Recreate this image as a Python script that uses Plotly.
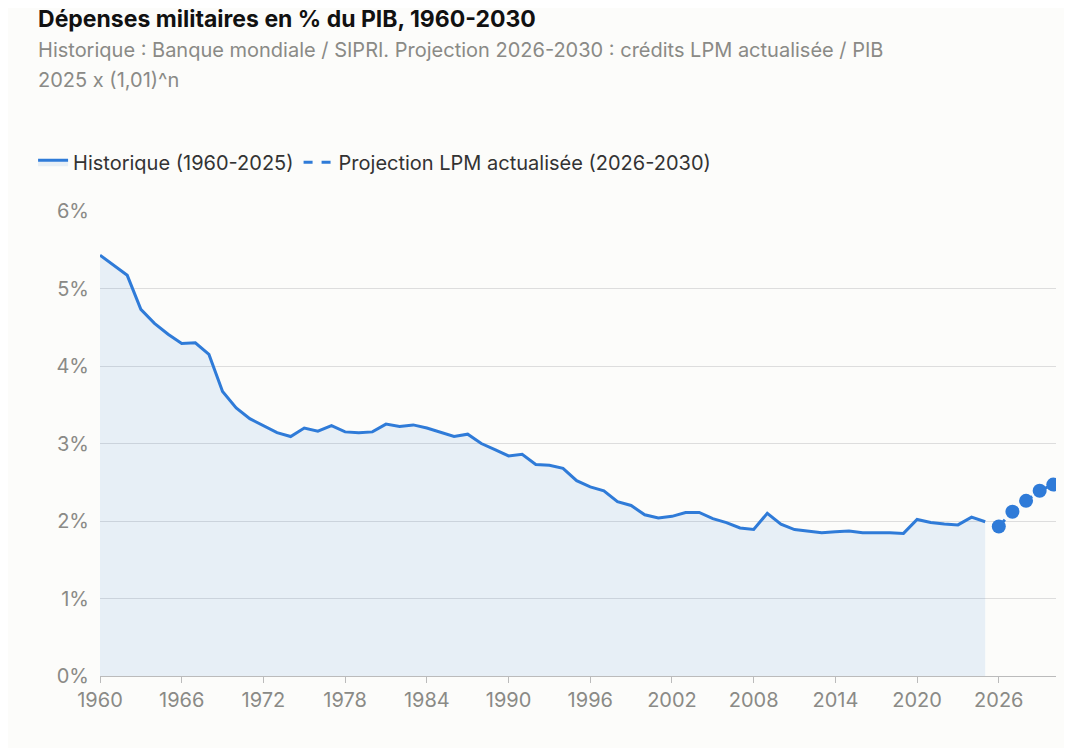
import plotly.graph_objects as go

# Historical data (1960-2025), % of GDP
histYears = list(range(1960, 2026))
histValues = [
    5.43, 5.30, 5.17, 4.73, 4.55, 4.41, 4.29, 4.30, 4.15, 3.67,
    3.46, 3.32, 3.23, 3.14, 3.09, 3.20, 3.16, 3.23, 3.15, 3.14,
    3.15, 3.25, 3.22, 3.24, 3.20, 3.15, 3.09, 3.12, 3.00, 2.92,
    2.84, 2.86, 2.73, 2.72, 2.68, 2.52, 2.44, 2.39, 2.25, 2.20,
    2.08, 2.04, 2.06, 2.11, 2.11, 2.03, 1.98, 1.91, 1.89, 2.10,
    1.96, 1.89, 1.87, 1.85, 1.86, 1.87, 1.85, 1.85, 1.85, 1.84,
    2.02, 1.98, 1.96, 1.95, 2.05, 1.99,
]

# Projection (2026-2030)
projYears = [2026, 2027, 2028, 2029, 2030]
projValues = [1.93, 2.12, 2.26, 2.39, 2.47]

xTicks = list(range(1960, 2027, 6))
yTicks = [0, 1, 2, 3, 4, 5, 6]

blue = "#2f7bd8"
grey = "#8a8a86"
font = "Inter"

fig = go.Figure()
fig.add_trace(go.Scatter(
    x=histYears, y=histValues, mode="lines", name="Historique (1960-2025)",
    line=dict(color=blue, width=3), fill="tozeroy", fillcolor="rgba(47,123,216,0.10)",
))
fig.add_trace(go.Scatter(
    x=projYears, y=projValues, mode="lines+markers", showlegend=False,
    line=dict(color=blue, width=3, dash="dash"), marker=dict(size=14, color=blue),
))
# legend entry: dashed line only
fig.add_trace(go.Scatter(
    x=[None], y=[None], mode="lines", name="Projection LPM actualisée (2026-2030)",
    line=dict(color=blue, width=3, dash="dash"),
))

fig.update_layout(
    width=1072, height=748,
    paper_bgcolor="#fcfcfa", plot_bgcolor="#fcfcfa",
    font=dict(family=font, size=20, color=grey),
    title=dict(
        text="<b>Dépenses militaires en % du PIB, 1960-2030</b><br>"
             "<span style='font-size:20px;color:#8a8a86'>Historique : Banque mondiale / SIPRI. "
             "Projection 2026-2030 : crédits LPM actualisée / PIB<br>2025 x (1,01)^n</span>",
        x=0.028, xanchor="left", y=0.975, yanchor="top",
        font=dict(family=font, size=23, color="#111111"),
    ),
    legend=dict(
        orientation="h", x=-0.07, y=1.105, xanchor="left", yanchor="middle",
        font=dict(size=20, color="#333333"), itemwidth=30, bgcolor="rgba(0,0,0,0)",
    ),
    margin=dict(l=92, r=24, t=203, b=80),
    showlegend=True,
)
fig.update_xaxes(
    range=[1960, 2030.2], tickvals=xTicks, showgrid=False, zeroline=False,
    showline=True, linecolor="#bbbbbb", ticks="outside", ticklen=6, tickcolor="#bbbbbb",
)
fig.update_yaxes(
    range=[0, 6], tickvals=yTicks, ticktext=[f"{v}%" for v in yTicks],
    gridcolor="#dddddd", zeroline=False, ticks="", ticklabelstandoff=10,
)

fig.write_html("out.html")
